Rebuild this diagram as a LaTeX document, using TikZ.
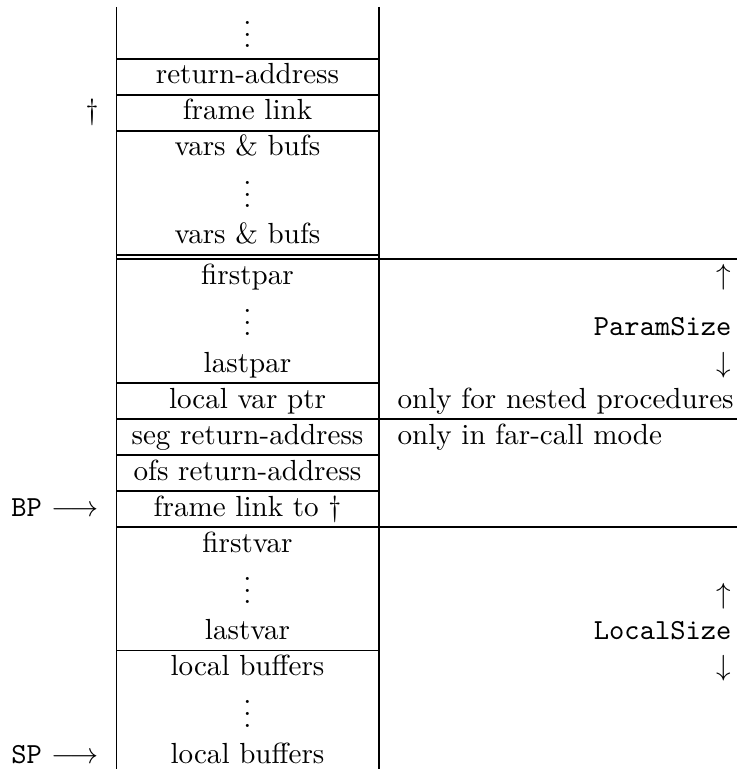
\documentclass[tikz,border=0pt]{standalone}
\usetikzlibrary{positioning}
\begin{document}
\begin{tikzpicture}[
  x=0.33333pt, y=-0.33333pt,
  rule options/.style = {draw=black, line width=0.4pt},
  cell options/.style = {anchor=base, inner sep=0pt, scale=0.97},
  dots options/.style = {cell options, text height=9.5pt},
  note options/.style = {anchor=base west, inner sep=0pt, scale=0.97},
  size options/.style = {anchor=base east, inner sep=0pt, scale=0.97},
  pointer options/.style = {anchor=base east, inner sep=0pt, scale=0.97},
  ]
  \useasboundingbox (0,0) rectangle (737,769);
  % stack cells, centred in the box column
  \foreach \name/\base/\txt in {
      retaddr/84/return-address, flink/120/frame link,
      varsA/156/vars \& bufs, varsB/244/vars \& bufs,
      firstpar/284/firstpar, lastpar/372/lastpar,
      lvptr/408/local var ptr, segret/444/seg return-address,
      ofsret/480/ofs return-address, flinkto/516/frame link to \dag,
      firstvar/552/firstvar, lastvar/639.7/lastvar,
      lbufA/675.7/local buffers, lbufB/763.2/local buffers} {
    \node[cell options] (\name) at (247.5,\base) {\txt};
  }
  \foreach \name/\base in {dotsA/48, dotsB/207.7, dotsC/335.7, dotsD/603.7, dotsE/727.2}
    \node[dots options] (\name) at (247.5,\base) {$\vdots$};
  % right column
  \node[size options] (psup) at (732,284) {$\uparrow$};
  \node[size options, font=\ttfamily] (psize) at (732,335.7) {ParamSize};
  \node[size options] (psdown) at (732,372) {$\downarrow$};
  \node[note options] (nested) at (397,408) {only for nested procedures};
  \node[note options] (farcall) at (397,444) {only in far-call mode};
  \node[size options] (lsup) at (732,603.7) {$\uparrow$};
  \node[size options, font=\ttfamily] (lsize) at (732,639.7) {LocalSize};
  \node[size options] (lsdown) at (732,675.7) {$\downarrow$};
  % pointers on the left
  \node[pointer options] (dagger) at (99,120) {\dag};
  \node[pointer options] (bp) at (99,516) {\texttt{BP} $\longrightarrow$};
  \node[pointer options] (sp) at (99,763.2) {\texttt{SP} $\longrightarrow$};
  % rules across the box column only
  \foreach \y in {59,95,131,255,383,455,491,650.5}
    \draw[rule options] (116.7,\y) -- (379,\y);
  % rules across both columns
  \foreach \y in {259,419,527}
    \draw[rule options] (116.7,\y) -- (737,\y);
  \draw[rule options] (116.7,7) -- (116.7,769);
  \draw[rule options] (379,7) -- (379,769);
\end{tikzpicture}
\end{document}
